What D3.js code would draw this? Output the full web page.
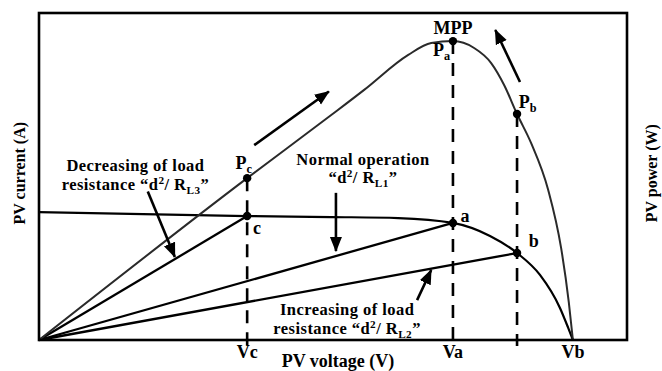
<!DOCTYPE html>
<html>
<head>
<meta charset="utf-8">
<script src="https://cdn.jsdelivr.net/npm/d3@7"></script>
<style>
  html, body { margin: 0; padding: 0; background: #fff; }
  svg text { font-family: "Liberation Serif", "Times New Roman", serif; font-weight: bold; fill: #000; }
</style>
</head>
<body>
<div id="chart"></div>
<script>
// I-V curve (current vs voltage), schematic units
const ivVoltage = [0, 35.4, 49.7, 61.1, 70.4, 76.7, 81.3, 85.2, 88.6, 90.0, 90.8]
const ivCurrent = [3.91, 3.79, 3.76, 3.73, 3.58, 3.18, 2.66, 1.99, 0.98, 0.37, 0]

// P-V curve (power vs voltage), schematic units
const pvVoltage = [0, 35.4, 49.7, 55.3, 62.8, 66.7, 70.4, 74.0, 76.9, 79.1, 81.3, 83.7, 86.6, 88.8, 90.1, 90.8]
const pvPower = [0, 49.5, 68.8, 76.5, 87.2, 90.8, 91.4, 89.3, 84.7, 78.0, 69.1, 60.2, 45.9, 28.1, 11.6, 0]

// operating points: c (RL3), a (RL1), b (RL2)
const opNames = ["c", "a", "b"]
const opVoltage = [35.4, 70.4, 81.3]
const opCurrent = [3.79, 3.58, 2.66]
const opPower = [49.5, 91.4, 69.1]

const tickLabels = ["Vc", "Va", "Vb"]
const tickVoltage = [35.4, 70.4, 90.8]

const width = 662, height = 371
const margin = {left: 39, right: 35, top: 13, bottom: 31}

let svg = d3.select("#chart").append("svg")
    .attr("width", width)
    .attr("height", height)

let x = d3.scaleLinear().domain([0, 100]).range([margin.left, width - margin.right])
let yI = d3.scaleLinear().domain([0, 10]).range([height - margin.bottom, margin.top])
let yP = d3.scaleLinear().domain([0, 100]).range([height - margin.bottom, margin.top])

svg.append("defs").append("marker")
    .attr("id", "head")
    .attr("markerUnits", "userSpaceOnUse")
    .attr("viewBox", "0 -7 15 14")
    .attr("refX", 14)
    .attr("refY", 0)
    .attr("markerWidth", 15)
    .attr("markerHeight", 14)
    .attr("orient", "auto")
    .append("path")
    .attr("d", "M0,-6L15,0L0,6Z")
    .attr("fill", "#000")

const y0 = yP(0)

// dashed verticals from the power points to the axis
svg.append("g")
    .selectAll("line")
    .data(opVoltage)
    .join("line")
    .attr("x1", d => x(d))
    .attr("x2", d => x(d))
    .attr("y1", (d, i) => yP(opPower[i]))
    .attr("y2", y0 + 6)
    .attr("stroke", "#000")
    .attr("stroke-width", 2.6)
    .attr("stroke-dasharray", "13,9")

// load lines from origin to operating points
svg.append("g")
    .selectAll("line")
    .data(opVoltage)
    .join("line")
    .attr("x1", x(0))
    .attr("y1", yI(0))
    .attr("x2", d => x(d))
    .attr("y2", (d, i) => yI(opCurrent[i]))
    .attr("stroke", "#000")
    .attr("stroke-width", 2.3)

const ivLine = d3.line()
    .x(d => x(d[0]))
    .y(d => yI(d[1]))
    .curve(d3.curveMonotoneX)

svg.append("path")
    .attr("d", ivLine(d3.zip(ivVoltage, ivCurrent)))
    .attr("fill", "none")
    .attr("stroke", "#000")
    .attr("stroke-width", 2.2)

const pvLine = d3.line()
    .x(d => x(d[0]))
    .y(d => yP(d[1]))
    .curve(d3.curveMonotoneX)

svg.append("path")
    .attr("d", pvLine(d3.zip(pvVoltage, pvPower)))
    .attr("fill", "none")
    .attr("stroke", "#2a2a2a")
    .attr("stroke-width", 2)

// frame
svg.append("rect")
    .attr("x", x(0))
    .attr("y", yP(100))
    .attr("width", x(100) - x(0))
    .attr("height", yP(0) - yP(100))
    .attr("fill", "none")
    .attr("stroke", "#000")
    .attr("stroke-width", 2.6)

// dots
svg.append("g")
    .selectAll("circle")
    .data(opVoltage.map((v, i) => [v, yI(opCurrent[i])]).concat(opVoltage.map((v, i) => [v, yP(opPower[i])])))
    .join("circle")
    .attr("cx", d => x(d[0]))
    .attr("cy", d => d[1])
    .attr("r", 4.2)
    .attr("fill", "#000")

// arrows (voltage, power-scale units)
const arrows = [
    [[36.6, 59.6], [49.3, 76.0]],
    [[81.8, 78.9], [77.6, 94.8]],
    [[18.5, 45.4], [23.1, 25.4]],
    [[50.5, 45.0], [50.5, 27.2]],
    [[64.3, 12.2], [66.7, 21.4]]
]

svg.append("g")
    .selectAll("line")
    .data(arrows)
    .join("line")
    .attr("x1", d => x(d[0][0]))
    .attr("y1", d => yP(d[0][1]))
    .attr("x2", d => x(d[1][0]))
    .attr("y2", d => yP(d[1][1]))
    .attr("stroke", "#000")
    .attr("stroke-width", 2.6)
    .attr("marker-end", "url(#head)")

// rich text: lines of pieces [text, "n" | "sub" | "sup"], one <text> per label
function rich(px, py, lines, size, anchor, lineGap) {
    let t = svg.append("text")
        .attr("x", px)
        .attr("y", py)
        .attr("font-size", size)
        .attr("text-anchor", anchor || "start")
    lines.forEach((pieces, li) => {
        let shift = 0
        pieces.forEach(([s, mode], pi) => {
            let dy = 0, fs = size
            if (mode == "sub") { dy = 4 - shift; fs = size * 0.68; shift = 4 }
            else if (mode == "sup") { dy = -6 - shift; fs = size * 0.68; shift = -6 }
            else { dy = -shift; shift = 0 }
            let ts = t.append("tspan").attr("font-size", fs).text(s)
            if (pi == 0 && li > 0) ts.attr("x", px).attr("dy", lineGap)
            else ts.attr("dy", dy)
        })
        // back to baseline before the next line
        if (shift != 0) t.append("tspan").attr("dy", -shift).text("")
    })
    return t
}

const fs = 18
rich(x(70.4), yP(93.6), [[["MPP", "n"]]], fs, "middle")
rich(x(67.0), yP(86.9), [[["P", "n"], ["a", "sub"]]], fs)
rich(x(81.6), yP(71.0), [[["P", "n"], ["b", "sub"]]], fs)
rich(x(33.4), yP(52.4), [[["P", "n"], ["c", "sub"]]], fs)

const opLabelPos = [[36.4, 32.4], [71.7, 36.1], [83.3, 28.4]]
opNames.forEach((n, i) => rich(x(opLabelPos[i][0]), yP(opLabelPos[i][1]), [[[n, "n"]]], fs))

// two-line notes: slightly smaller, letter-spaced to keep the reference width
const noteFs = 16.5, noteGap = 18.5
rich(x(16.4), yP(51.6), [
    [["Decreasing of load", "n"]],
    [["resistance \u201Cd", "n"], ["2", "sup"], ["/ R", "n"], ["L3", "sub"], ["\u201D", "n"]]
], noteFs, "middle", noteGap).attr("letter-spacing", 0.45)

rich(x(55.1), yP(53.6), [
    [["Normal operation", "n"]],
    [["\u201Cd", "n"], ["2", "sup"], ["/ R", "n"], ["L1", "sub"], ["\u201D", "n"]]
], noteFs, "middle", noteGap).attr("letter-spacing", 0.45)

rich(x(52.4), yP(7.6), [
    [["Increasing of load", "n"]],
    [["resistance \u201Cd", "n"], ["2", "sup"], ["/ R", "n"], ["L2", "sub"], ["\u201D", "n"]]
], noteFs, "middle", noteGap).attr("letter-spacing", 0.45)

// tick labels under the axis
svg.append("g")
    .selectAll("text")
    .data(tickLabels)
    .join("text")
    .attr("x", (d, i) => x(tickVoltage[i]))
    .attr("y", y0 + 18)
    .attr("text-anchor", "middle")
    .attr("font-size", fs)
    .text(d => d)

// axis titles
svg.append("text")
    .attr("x", 338)
    .attr("y", height - 4)
    .attr("text-anchor", "middle")
    .attr("font-size", 18)
    .text("PV voltage (V)")

svg.append("text")
    .attr("transform", `translate(25,${yP(51)}) rotate(-90)`)
    .attr("text-anchor", "middle")
    .attr("font-size", 16)
    .text("PV current (A)")

svg.append("text")
    .attr("transform", `translate(657,${yP(51)}) rotate(-90)`)
    .attr("text-anchor", "middle")
    .attr("font-size", 16)
    .text("PV power (W)")
</script>
</body>
</html>
